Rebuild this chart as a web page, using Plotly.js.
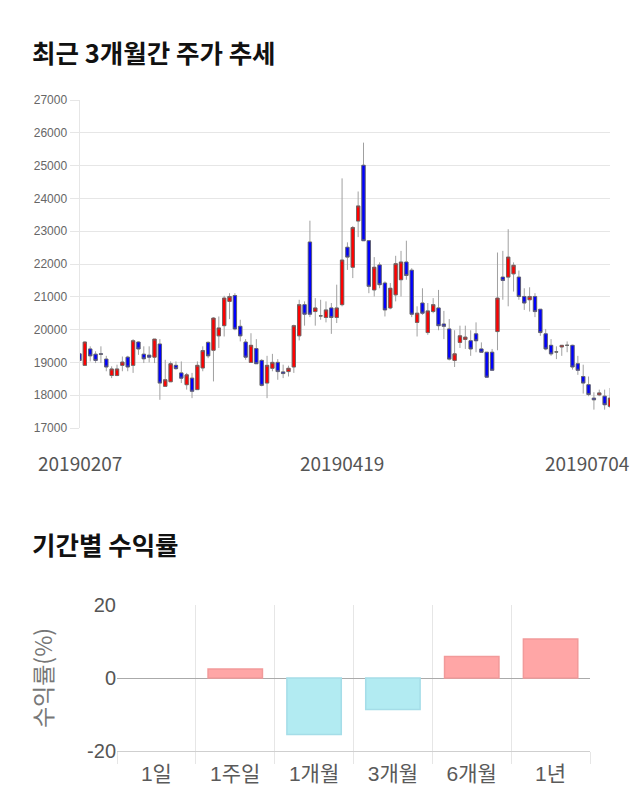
<!DOCTYPE html>
<html>
<head>
<meta charset="utf-8">
<script src="https://cdn.plot.ly/plotly-3.0.1.min.js"></script>
<style>
  html, body { margin: 0; padding: 0; background: #fff; }
  #chart { width: 640px; height: 810px; }
</style>
</head>
<body>
<div id="chart"></div>
<script>
// ---- Candlestick data (daily, 2019-02-07 .. 2019-07-04) ----
const openP = [19260,18910,19410,19250,19260,19100,18600,18600,18910,19160,
18910,19620,19250,19220,19160,19560,18270,18410,18910,18680,
18320,18520,18170,18830,19610,19370,19810,20120,20860,21040,
20100,19620,19000,19420,19060,18370,18820,19000,18710,18720,
18860,19810,20760,22670,20550,20420,20370,20660,20370,20760,
22510,21900,23310,25010,22710,21210,21970,21420,20660,21060,
21520,22060,21810,20220,20810,19910,20550,20660,20170,20020,
19060,19610,19700,19660,19870,19410,19310,19310,19940,21600,
21600,21700,21600,21010,20910,21010,20620,19870,19520,19320,
19470,19520,19520,18960,18570,18320,17910,18010,17970,17660];

const highP = [19340,19640,19490,19340,19490,19200,18880,18930,19180,19200,
19710,19640,19490,19490,19710,19710,19080,19030,19030,19030,
18680,18680,19030,19490,19640,20380,20400,21030,21110,21110,
20300,19710,19890,19710,19100,19200,19260,19100,18930,18900,
20150,20910,20860,23320,20960,20910,20860,20810,21370,24610,
22660,23160,24210,25700,22710,22210,22050,21470,21420,22250,
22400,22710,21870,20710,21260,20810,20960,21210,20570,20320,
19980,20120,20120,19980,20220,19610,19310,19410,22350,22400,
23060,22050,21800,21260,21290,21110,20620,20020,19710,19490,
19520,19640,19540,19200,18930,18570,18090,18170,18170,18220];

const lowP = [18780,18900,19030,18980,18980,18730,18520,18580,18730,18730,
18680,19230,18980,19000,18980,17860,18270,18410,18780,18370,
18170,17910,18170,18730,19130,18420,19440,19790,20320,19980,
19640,19080,19000,18960,18270,17910,18730,18470,18520,18570,
18680,19670,20120,20380,20120,20300,20220,19870,20200,20710,
21820,21570,22820,22710,21110,21010,21260,20400,20620,20860,
21010,21520,20380,19790,20450,19840,20500,19980,19710,19060,
18860,19440,19410,19200,19310,19310,18550,18760,19370,20910,
20710,21160,20910,20600,20550,20380,19810,19370,19200,19100,
19200,19310,18780,18620,18050,17970,17560,17970,17560,17610];

const closeP = [19060,19620,19200,19060,19250,18860,18800,18800,19010,18860,
19660,19410,19110,19160,19710,18370,18470,18960,18810,18520,
18620,18120,18910,19360,19200,20350,20050,20960,21010,20020,
19810,19160,19520,18960,18300,18910,19000,18720,18660,18820,
20120,20760,20470,20470,20660,20420,20600,20370,20660,22120,
22210,23110,23770,22710,21320,21900,21370,20600,21260,22010,
22060,21650,20470,20500,20500,20570,20760,20120,20100,19100,
19260,19810,19770,19410,19660,19310,18550,18760,20960,21500,
22210,21960,21010,20810,21010,20550,19910,19410,19260,19320,
19520,19520,18860,18760,18370,18020,17860,18070,17710,17910];

const dateTickIdx = [0, 49, 99];
const dateTickLabels = ['20190207', '20190419', '20190704'];

// ---- Period returns ----
const periods = ['1일', '1주일', '1개월', '3개월', '6개월', '1년'];
const returnsPct = [0, 2.46, -15.5, -8.6, 5.9, 10.7];
const returnTickVals = [-20, 0, 20];
const returnTickText = ['-20', '0', '20'];

// ---- build ----
const W = 640, H = 810;
const xIdx = openP.map((_, i) => i);
const bodyHi = openP.map((o, i) => Math.max(o, closeP[i]));
const bodyLo = openP.map((o, i) => Math.min(o, closeP[i]));

const RED = '#ff0000', BLUE = '#0000ff';

const wickTrace = {
  type: 'candlestick', x: xIdx, open: openP, high: highP, low: lowP, close: closeP,
  xaxis: 'x', yaxis: 'y',
  increasing: { line: { color: '#a0a0a0', width: 1 }, fillcolor: RED },
  decreasing: { line: { color: '#a0a0a0', width: 1 }, fillcolor: BLUE },
  whiskerwidth: 0, showlegend: false, hoverinfo: 'skip'
};
const bodyTrace = {
  type: 'candlestick', x: xIdx, open: openP, high: bodyHi, low: bodyLo, close: closeP,
  xaxis: 'x', yaxis: 'y',
  increasing: { line: { color: '#666666', width: 0.8 }, fillcolor: RED },
  decreasing: { line: { color: '#666666', width: 0.8 }, fillcolor: BLUE },
  whiskerwidth: 0, showlegend: false, hoverinfo: 'skip'
};

const barTrace = {
  type: 'bar', x: periods, y: returnsPct, xaxis: 'x2', yaxis: 'y2',
  width: 0.69,
  marker: {
    color: returnsPct.map(v => v >= 0 ? '#ffa6a6' : '#b2ebf2'),
    line: {
      color: returnsPct.map(v => v > 0 ? '#f29a9a' : (v < 0 ? '#a5dde8' : 'rgba(0,0,0,0)')),
      width: returnsPct.map(v => v === 0 ? 0 : 1.5)
    }
  },
  showlegend: false, hoverinfo: 'skip'
};

const px = v => v / W;
const py = v => 1 - v / H;

const annotations = [
  { text: '<b>최근 3개월간 주가 추세</b>', xref: 'paper', yref: 'paper', x: px(30), y: py(51),
    xanchor: 'left', yanchor: 'middle', showarrow: false,
    font: { family: 'Noto Sans CJK KR', size: 25.5, color: '#111' } },
  { text: '<b>기간별 수익률</b>', xref: 'paper', yref: 'paper', x: px(30), y: py(543),
    xanchor: 'left', yanchor: 'middle', showarrow: false,
    font: { family: 'Noto Sans CJK KR', size: 25.5, color: '#111' } }
];
dateTickIdx.forEach((ix, k) => {
  const last = k === dateTickIdx.length - 1;
  annotations.push({
    text: dateTickLabels[k], xref: 'x', yref: 'paper', x: ix, y: py(462),
    xanchor: last ? 'right' : 'center', xshift: last ? 21 : 0, yanchor: 'middle',
    showarrow: false, font: { family: 'Noto Sans CJK KR', size: 19, color: '#555' }
  });
});

const layout = {
  width: W, height: H,
  margin: { l: 0, r: 0, t: 0, b: 0 },
  paper_bgcolor: '#fff', plot_bgcolor: '#fff',
  boxgap: 0.12,
  xaxis: {
    domain: [px(79.5), px(610)], range: [0, 99], anchor: 'y',
    showgrid: false, zeroline: false, showline: false, showticklabels: false,
    ticks: '', rangeslider: { visible: false }, fixedrange: true
  },
  yaxis: {
    domain: [py(428), py(100)], range: [17000, 27000], dtick: 1000, tick0: 17000,
    anchor: 'x', tickformat: 'd',
    showgrid: true, gridcolor: '#e6e6e6', gridwidth: 1,
    zeroline: false, showline: true, linecolor: '#e6e6e6', linewidth: 1,
    ticks: 'outside', ticklen: 9, tickcolor: '#e6e6e6',
    tickfont: { family: 'Liberation Sans, Arial', size: 12, color: '#666' }
  },
  xaxis2: {
    domain: [px(117), px(590)], anchor: 'y2', type: 'category',
    tickson: 'boundaries', showgrid: true, gridcolor: '#e6e6e6',
    ticks: 'outside', ticklen: 12, tickcolor: '#e6e6e6',
    showline: true, linecolor: '#cfcfcf', ticklabelstandoff: 4,
    tickfont: { family: 'Liberation Sans, Noto Sans CJK KR', size: 21, color: '#5a5a5a' }
  },
  yaxis2: {
    domain: [py(751), py(605)], range: [-20, 20], tickvals: returnTickVals, ticktext: returnTickText,
    anchor: 'x2',
    showgrid: true, gridcolor: '#e6e6e6', zeroline: true, zerolinecolor: '#aaaaaa', zerolinewidth: 1,
    tickfont: { family: 'Liberation Sans, Arial', size: 20, color: '#555' },
    title: { text: '수익률(%)', font: { family: 'Noto Sans CJK KR', size: 23, color: '#777' }, standoff: 28 }
  },
  annotations: annotations
};

Plotly.newPlot('chart', [wickTrace, bodyTrace, barTrace], layout, { staticPlot: true, displayModeBar: false });
</script>
</body>
</html>
